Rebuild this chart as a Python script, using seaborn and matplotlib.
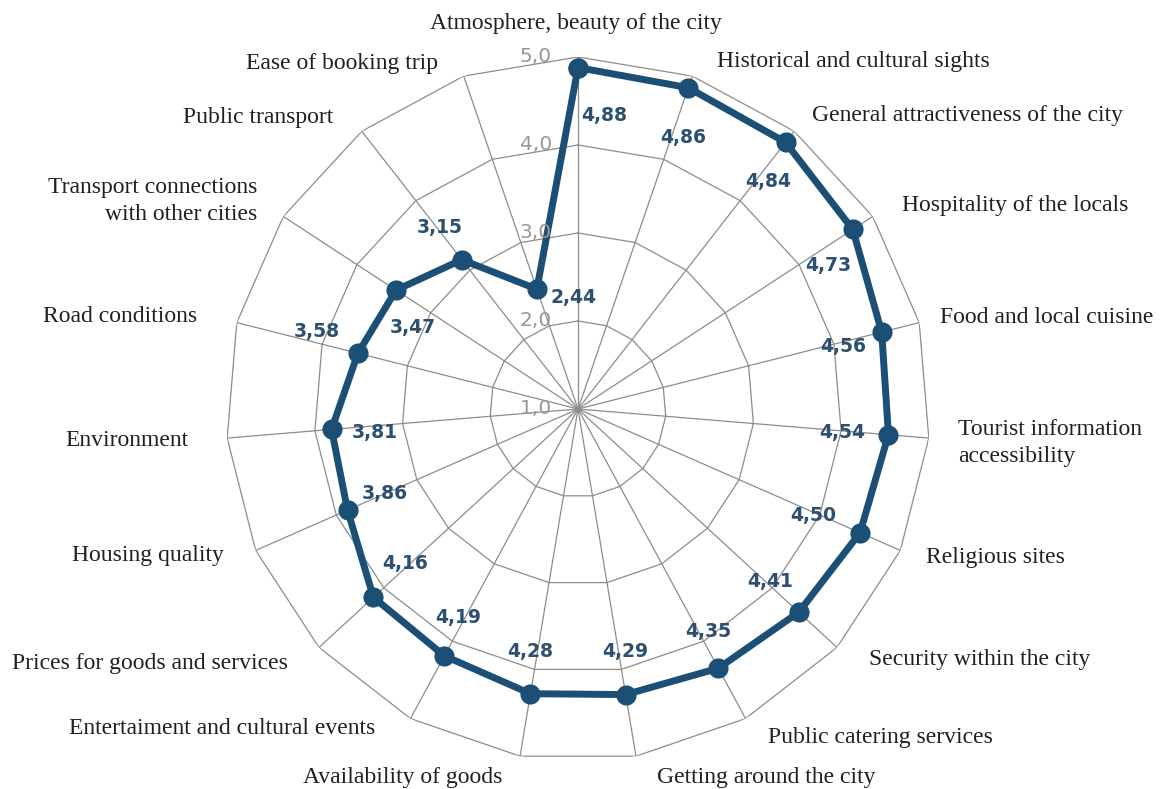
import numpy as np
import pandas as pd
import matplotlib
matplotlib.use("Agg")
import matplotlib.pyplot as plt
import seaborn as sns

# ---------------- data ----------------
categories = [
    "Atmosphere, beauty of the city",
    "Historical and cultural sights",
    "General attractiveness of the city",
    "Hospitality of the locals",
    "Food and local cuisine",
    "Tourist information\naccessibility",
    "Religious sites",
    "Security within the city",
    "Public catering services",
    "Getting around the city",
    "Availability of goods",
    "Entertaiment and cultural events",
    "Prices for goods and services",
    "Housing quality",
    "Environment",
    "Road conditions",
    "Transport connections\nwith other cities",
    "Public transport",
    "Ease of booking trip",
]
scores = [4.88, 4.86, 4.84, 4.73, 4.56, 4.54, 4.50, 4.41, 4.35, 4.29,
          4.28, 4.19, 4.16, 3.86, 3.81, 3.58, 3.47, 3.15, 2.44]
score_labels = ["4,88", "4,86", "4,84", "4,73", "4,56", "4,54", "4,50", "4,41",
                "4,35", "4,29", "4,28", "4,19", "4,16", "3,86", "3,81", "3,58",
                "3,47", "3,15", "2,44"]
ring_ticks = [1.0, 2.0, 3.0, 4.0, 5.0]
ring_tick_labels = ["1,0", "2,0", "3,0", "4,0", "5,0"]

# ---------------- layout (pixels) ----------------
W, H = 1164, 789
CX, CY, R = 578, 409, 352

# category label anchor (x, y, ha)
cat_pos = [
    (576, 24, "center"), (853, 61, "center"), (967, 115, "center"),
    (1015, 206, "center"), (1047, 317, "center"), (958, 443, "left"),
    (995, 557, "center"), (980, 660, "center"), (880, 738, "center"),
    (766, 777, "center"), (403, 777, "center"), (222, 729, "center"),
    (150, 663, "center"), (148, 556, "center"), (127, 441, "center"),
    (120, 316, "center"), (257, 201, "right"), (258, 118, "center"),
    (342, 63, "center"),
]
# value label centres
val_pos = [
    (604, 116), (683, 137), (768, 181), (828, 266), (843, 347), (842, 433),
    (813, 515), (770, 582), (708, 632), (625, 652), (530, 652), (458, 617),
    (405, 563), (385, 493), (375, 433), (317, 331), (413, 327), (440, 227),
    (574, 297),
]

line_color = "#1b4f75"
value_color = "#2d5070"
grid_color = "#8c8c8c"

sns.set_theme(style="white")
plt.rcParams["font.family"] = ["DejaVu Sans"]

fig = plt.figure(figsize=(W / 100, H / 100), dpi=100)
fig.patch.set_facecolor("white")
ax = fig.add_axes([(CX - R) / W, (H - CY - R) / H, 2 * R / W, 2 * R / H],
                  projection="polar")
ax.set_theta_zero_location("N")
ax.set_theta_direction(-1)
ax.grid(False)
ax.set_xticks([])
ax.set_yticks([])
ax.spines["polar"].set_visible(False)
ax.patch.set_alpha(0)

n = len(categories)
theta = np.arange(n) * 2 * np.pi / n
theta_closed = np.append(theta, 2 * np.pi)

# polygon grid
for r in ring_ticks[1:]:
    ax.plot(theta_closed, [r] * (n + 1), color=grid_color, lw=0.9, zorder=1)
for t in theta:
    ax.plot([t, t], [ring_ticks[0], ring_ticks[-1]], color=grid_color, lw=0.9, zorder=1)

df = pd.DataFrame({"theta": theta_closed, "score": scores + [scores[0]]})
sns.lineplot(data=df, x="theta", y="score", ax=ax, sort=False, estimator=None,
             color=line_color, lw=5, marker="o", markersize=14.5,
             markeredgewidth=0, zorder=5)
ax.set_xlabel("")
ax.set_ylabel("")
ax.set_ylim(ring_ticks[0], ring_ticks[-1])

for r, lbl in zip(ring_ticks, ring_tick_labels):
    ax.annotate(lbl, xy=(0, r), xytext=(-26 * 0.72, 0), textcoords="offset points",
                ha="right", va="center", color="#979797", fontsize=14.5, zorder=6)

for (x, y, ha), lbl in zip(cat_pos, categories):
    fig.text(x / W, 1 - y / H, lbl, ha=ha, va="center",
             multialignment=ha if ha != "center" else "center",
             fontsize=17, family=["Liberation Serif", "DejaVu Serif"], color="#231f20",
             linespacing=1.33)

for (x, y), lbl in zip(val_pos, score_labels):
    fig.text(x / W, 1 - y / H, lbl, ha="center", va="center", fontsize=13.5,
             weight="bold", color=value_color, zorder=7)

fig.savefig("out.png", dpi=100, facecolor="white")
